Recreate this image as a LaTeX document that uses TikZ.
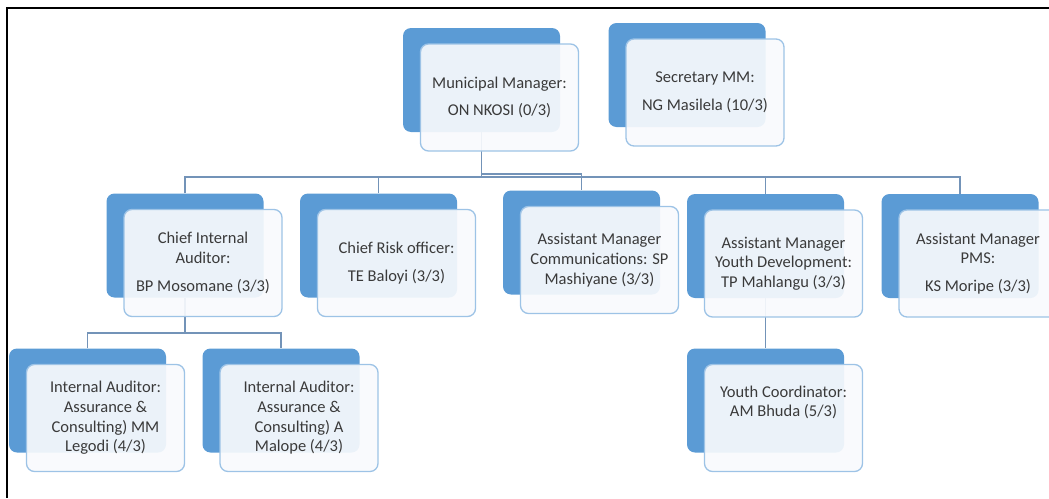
\documentclass[tikz,border=0pt]{standalone}
\usepackage{fontspec}
\setmainfont{Carlito}
\usetikzlibrary{backgrounds}
\definecolor{backblue}{HTML}{5B9BD5}
\definecolor{frontfill}{HTML}{F8FAFD}
\definecolor{frontline}{HTML}{9DC3E6}
\definecolor{connc}{HTML}{7393B8}
\definecolor{txt}{HTML}{3A3A3A}
\newcommand\orgunit[4]{%
  \node[backbox] (#1B) at (#2,#3) {};
  \node[frontbox] (#1) at (#2+18,#3+17.5) {#4};}
\begin{document}
\begin{tikzpicture}[x=1pt,y=-1pt,
  backbox/.style={draw=none, fill=backblue, rounded corners=8pt, minimum width=157pt, minimum height=104pt, inner sep=0pt},
  frontbox/.style={draw=frontline, line width=1.3pt, fill=frontfill, fill opacity=0.92, text opacity=1, rounded corners=8pt, minimum width=158pt, minimum height=107pt, inner sep=0pt, align=center, text=txt, font=\fontsize{16.5}{19.7}\selectfont},
  conn/.style={draw=connc, line width=1.2pt}]
\useasboundingbox (0,0) rectangle (1049,498);
\draw[line width=2.5pt] (1049,8) -- (7,8) -- (7,498);

\orgunit{mm}{481.5}{80}{Municipal Manager:\\[8pt]ON NKOSI (0/3)}
\orgunit{sec}{687}{75}{Secretary MM:\\[8pt]NG Masilela (10/3)}
\orgunit{cia}{185}{245.5}{Chief Internal\\Auditor:\\[8pt]BP Mosomane (3/3)}
\orgunit{cr}{378.5}{245.5}{Chief Risk officer:\\[8pt]TE Baloyi (3/3)}
\orgunit{comm}{581.5}{242.5}{Assistant Manager\\Communications: SP\\Mashiyane (3/3)}
\orgunit{yd}{765.5}{246}{Assistant Manager\\Youth Development:\\TP Mahlangu (3/3)}
\orgunit{pms}{960}{246}{Assistant Manager\\PMS:\\[8pt]KS Moripe (3/3)}
\orgunit{iaa}{87.5}{400.5}{Internal Auditor:\\Assurance \&\\Consulting) MM\\Legodi (4/3)}
\orgunit{iab}{281}{400.5}{Internal Auditor:\\Assurance \&\\Consulting) A\\Malope (4/3)}
\orgunit{yc}{765.5}{400.5}{Youth Coordinator:\\AM Bhuda (5/3)\\[8pt]\strut}

\coordinate (busA) at (0,174);
\coordinate (busB) at (0,177);
\coordinate (busC) at (0,333);
\begin{scope}[on background layer]
  \draw[conn] (mmB.south) -- (mmB.south |- busB);
  \draw[conn] (mmB.south |- busA) -| (commB.north);
  \draw[conn] (ciaB.north) -- (ciaB.north |- busB) -- (pmsB.north |- busB) -- (pmsB.north);
  \draw[conn] (crB.north) -- (crB.north |- busB);
  \draw[conn] (ydB.north) -- (ydB.north |- busB);
  \draw[conn] (ciaB.south) -- (ciaB.south |- busC);
  \draw[conn] (iaaB.north) -- (iaaB.north |- busC) -- (iabB.north |- busC) -- (iabB.north);
  \draw[conn] (ydB.south) -- (ycB.north);
\end{scope}
\end{tikzpicture}
\end{document}
